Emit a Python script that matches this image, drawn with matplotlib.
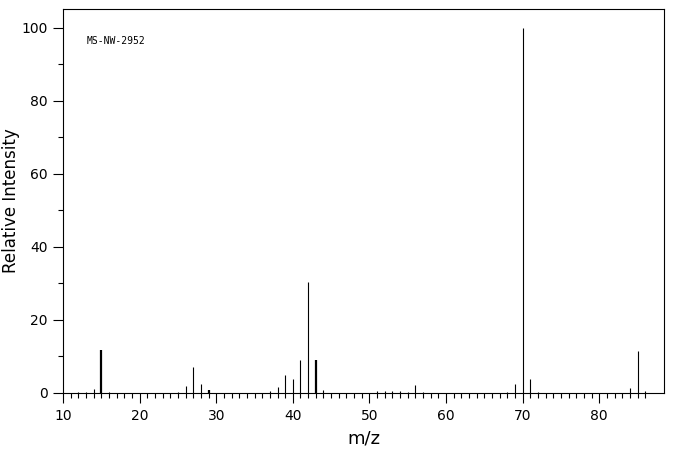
import matplotlib
matplotlib.use('Agg')
import matplotlib.pyplot as plt
import numpy as np

# peak list
mz = [12, 13, 14, 15, 16, 25, 26, 27, 28, 29, 37, 38, 39, 40, 41, 42, 43, 44,
      51, 52, 53, 54, 55, 56, 57, 68, 69, 70, 71, 72, 84, 85, 86]
intensity = [0.4, 0.2, 1.2, 11.7, 0.3, 0.3, 1.8, 7.0, 2.6, 0.9, 0.6, 1.6, 4.8, 3.9, 9.0, 30.3, 9.0, 0.9,
             0.6, 0.6, 0.6, 0.6, 0.3, 2.3, 0.2, 0.2, 2.4, 100.0, 3.7, 0.3, 1.5, 11.4, 0.5]
thick_peaks = [15, 29, 43]

x_ticks = [10, 20, 30, 40, 50, 60, 70, 80]
y_ticks = [0, 20, 40, 60, 80, 100]
sample_name = 'MS-NW-2952'

fig = plt.figure(figsize=(6.76, 4.55), dpi=100)
ax = fig.add_axes([63 / 676, 1 - 393 / 455, (664 - 63) / 676, (393 - 9) / 455])

mz_arr = np.array(mz)
int_arr = np.array(intensity)
is_thick = np.isin(mz_arr, thick_peaks)
ax.vlines(mz_arr[~is_thick], 0, int_arr[~is_thick], color='black', linewidth=0.8)
ax.vlines(mz_arr[is_thick], 0, int_arr[is_thick], color='black', linewidth=1.6)

ax.set_xlim(10, 88.45)
ax.set_ylim(0, 105.2)

ax.set_xticks(x_ticks)
ax.set_xticks(np.arange(10, 87), minor=True)
ax.set_yticks(y_ticks)
ax.set_yticks(np.arange(10, 101, 20), minor=True)

ax.tick_params(which='major', direction='out', length=7.2, width=0.8, labelsize=10, pad=4)
ax.tick_params(which='minor', direction='out', length=3.6, width=0.8)
ax.tick_params(top=False, right=False)

for s in ax.spines.values():
    s.set_linewidth(0.8)

ax.set_xlabel('m/z', fontsize=13)
ax.set_ylabel('Relative Intensity', fontsize=12)
ax.xaxis.set_label_coords(0.5, -0.096)
ax.yaxis.set_label_coords(-0.071, 0.5)

fig.text(87 / 676, 1 - 41 / 455, sample_name, fontsize=7, family='DejaVu Sans Mono', va='center')

fig.savefig('out.png', dpi=100)
